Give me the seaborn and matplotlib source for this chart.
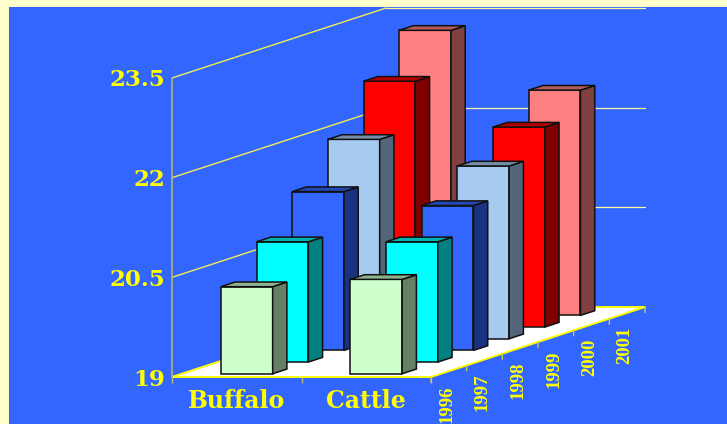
import numpy as np
import matplotlib
matplotlib.use("Agg")
import matplotlib.pyplot as plt
from matplotlib.colors import to_rgb
from matplotlib.patches import Rectangle
import seaborn as sns

categories = ["Buffalo", "Cattle"]
years = ["1996", "1997", "1998", "1999", "2000", "2001"]
values_1996 = [20.31, 20.42]
values_1997 = [20.81, 20.81]
values_1998 = [21.39, 21.18]
values_1999 = [22.00, 21.60]
values_2000 = [22.70, 22.01]
values_2001 = [23.29, 22.39]
all_values = [values_1996, values_1997, values_1998, values_1999, values_2000, values_2001]
year_colors = ["#CCFFCC", "#00FFFF", "#3366FF", "#A6CAF0", "#FF0000", "#FF8080"]
y_ticks = [19, 20.5, 22, 23.5]

BG = "#3366FF"
BORDER = "#FFFFCC"
YELLOW = "#FFFF00"
BASE = y_ticks[0]
TOP = y_ticks[-1]

# pixel layout of the front plane, everything else is sheared off it
W, H = 727, 424
X0, Y0 = 172, 47
AX_W, AX_H = 259, 299
SLOT_X, SLOT_Y = 214 / 6, 70 / 6
# one depth slot in data units of the axes
DX = SLOT_X / (AX_W / 2)
DY = SLOT_Y / (AX_H / (TOP - BASE))

sns.set_theme(style="white")
plt.rcParams["font.family"] = ["DejaVu Serif"]


def shade(color, f):
    return tuple(c * f for c in to_rgb(color))


def year_axes(depth, zorder):
    a = fig.add_axes([(X0 + SLOT_X * depth) / W, (Y0 + SLOT_Y * depth) / H, AX_W / W, AX_H / H], zorder=zorder)
    a.patch.set_alpha(0)
    return a


fig = plt.figure(figsize=(W / 100, H / 100), dpi=100, facecolor=BORDER)
fig.patches.append(Rectangle((9 / W, 0), 1, 1 - 7 / H, transform=fig.transFigure, facecolor=BG, edgecolor="none", zorder=-5))

# walls, floor and axis labels
ax = year_axes(0, 1)
ax.set_xlim(-0.5, 1.5)
ax.set_ylim(BASE, TOP)
n = len(years)
for v in y_ticks:
    ax.plot([-0.5, -0.5 + n * DX], [v, v + n * DY], color="#EEEE55", lw=1, clip_on=False, zorder=1)
    ax.plot([-0.5 + n * DX, 1.5 + n * DX], [v + n * DY] * 2, color="#FFFF99", lw=0.9, clip_on=False, zorder=1)
ax.fill([-0.5, 1.5, 1.5 + n * DX, -0.5 + n * DX], [BASE, BASE, BASE + n * DY, BASE + n * DY],
        facecolor="white", edgecolor=YELLOW, lw=1.4, clip_on=False, zorder=2)

for s in ["top", "right", "bottom"]:
    ax.spines[s].set_visible(False)
ax.spines["left"].set_color("#A8AE80")
ax.spines["left"].set_linewidth(1.3)
ax.set_yticks(y_ticks)
ax.set_yticklabels(["19", "20.5", "22", "23.5"], fontsize=16.5, fontweight="bold", color=YELLOW)
ax.tick_params(axis="y", length=0, pad=5)
ax.set_xticks([0, 1])
ax.set_xticklabels(categories, fontsize=17, fontweight="bold", color=YELLOW)
ax.set_xticks([-0.5, 0.5, 1.5], minor=True)
ax.tick_params(axis="x", which="major", length=0, pad=9)
ax.tick_params(axis="x", which="minor", bottom=True, length=4, width=1, color="#B8BC70")

# year ticks and labels along the right floor edge
for i in range(n + 1):
    ax.annotate("", xy=(1.5 + i * DX, BASE + i * DY), xytext=(0, -4), textcoords="offset points",
                arrowprops=dict(arrowstyle="-", color="#C8C860", lw=1, shrinkA=0, shrinkB=0), annotation_clip=False)
for i, yr in enumerate(years):
    ax.annotate(yr, xy=(1.5 + (i + 0.5) * DX, BASE + (i + 0.5) * DY), xytext=(-1.5, -10),
                textcoords="offset points", rotation=90, ha="center", va="top", color=YELLOW,
                fontsize=13.5, fontweight="bold", family="Liberation Serif", annotation_clip=False)

# bars, back to front, one axes per year so the depth comes from the axes position
for i in range(n - 1, -1, -1):
    a = year_axes(i + 0.28, 10 + n - i)
    vals = np.array(all_values[i], dtype=float)
    c = year_colors[i]
    sns.barplot(x=categories, y=vals - BASE, bottom=BASE, color=c, saturation=1, width=0.4,
                edgecolor="#101010", linewidth=1.1, clip_on=False, ax=a)
    a.set_xlim(-0.5, 1.5)
    a.set_ylim(BASE, TOP)
    a.axis("off")
    ddx, ddy = 0.4 * DX, 0.4 * DY
    for bar in a.patches:
        l, r = bar.get_x(), bar.get_x() + bar.get_width()
        t = bar.get_y() + bar.get_height()
        a.fill([r, r + ddx, r + ddx, r], [BASE, BASE + ddy, t + ddy, t], facecolor=shade(c, 0.5),
               edgecolor="#101010", lw=1.1, clip_on=False)
        a.fill([l, r, r + ddx, l + ddx], [t, t, t + ddy, t + ddy], facecolor=shade(c, 0.7),
               edgecolor="#101010", lw=1.1, clip_on=False)

fig.savefig("out.png", dpi=100, facecolor=BORDER)
